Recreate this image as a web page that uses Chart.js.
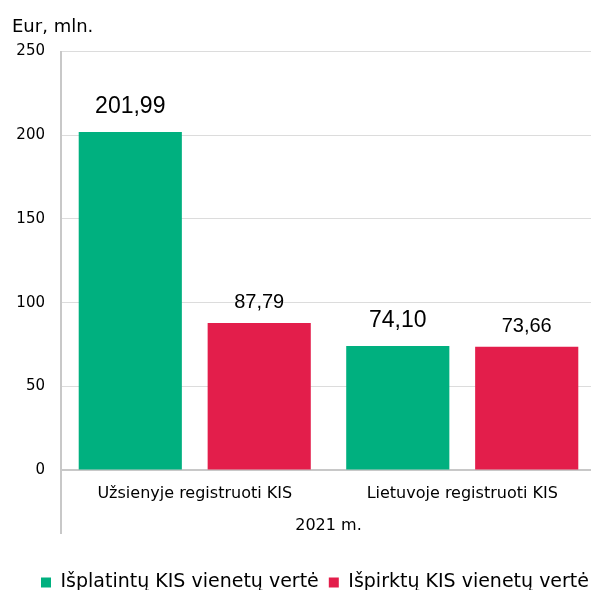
<!DOCTYPE html>
<html lang="lt">
<head>
<meta charset="UTF-8">
<title>KIS vienetų vertė</title>
<script src="https://cdn.jsdelivr.net/npm/chart.js@4"></script>
<style>
  html, body { margin: 0; padding: 0; background: #fff; overflow: hidden; }
</style>
</head>
<body>
<canvas id="kisChart" width="596" height="590"></canvas>
<script>
// chart data
const categories = ['Užsienyje registruoti KIS', 'Lietuvoje registruoti KIS'];
const seriesNames = ['Išplatintų KIS vienetų vertė', 'Išpirktų KIS vienetų vertė'];
const issuedValues = [201.99, 74.10];
const redeemedValues = [87.79, 73.66];
const yTicks = [0, 50, 100, 150, 200, 250];
const unitLabel = 'Eur, mln.';
const periodLabel = '2021 m.';

const axisColor = '#c8c8c8';
const gridColor = '#dcdcdc';
const sansFont = "'DejaVu Sans', Verdana, sans-serif";

// value labels above the bars (comma decimals)
const valueLabels = {
    id: 'valueLabels',
    afterDatasetsDraw(chart) {
        const ctx = chart.ctx;
        ctx.save();
        ctx.textAlign = 'center';
        ctx.textBaseline = 'alphabetic';
        ctx.fillStyle = '#000';
        chart.data.datasets.forEach((ds, i) => {
            const meta = chart.getDatasetMeta(i);
            ctx.font = ds.labelFont;
            meta.data.forEach((bar, j) => {
                const txt = ds.data[j].toFixed(2).replace('.', ',');
                ctx.fillText(txt, bar.x, bar.y - ds.labelGap);
            });
        });
        ctx.restore();
    }
};

// y axis line continues down through the category label area
const axisTail = {
    id: 'axisTail',
    afterDraw(chart) {
        const { ctx, chartArea } = chart;
        ctx.save();
        ctx.strokeStyle = axisColor;
        ctx.lineWidth = 2;
        ctx.beginPath();
        ctx.moveTo(chartArea.left, chartArea.bottom);
        ctx.lineTo(chartArea.left, chartArea.bottom + 64);
        ctx.stroke();
        ctx.restore();
    }
};

// nudge the legend row a little to the right, like the original
const legendShift = {
    id: 'legendShift',
    afterLayout(chart) {
        if (chart.legend) {
            chart.legend.left += 11;
            chart.legend.right += 11;
        }
    }
};

new Chart(document.getElementById('kisChart'), {
    type: 'bar',
    data: {
        labels: categories,
        datasets: [
            {
                label: seriesNames[0],
                data: issuedValues,
                backgroundColor: '#00b07f',
                labelFont: "23px 'Liberation Sans', Arial, sans-serif",
                labelGap: 19
            },
            {
                label: seriesNames[1],
                data: redeemedValues,
                backgroundColor: '#e31e4b',
                labelFont: "20px 'Liberation Sans', Arial, sans-serif",
                labelGap: 15
            }
        ]
    },
    options: {
        responsive: false,
        animation: false,
        categoryPercentage: 0.964,
        barPercentage: 0.8,
        layout: { padding: { left: 12, right: 0, top: 0, bottom: -12 } },
        plugins: {
            title: {
                display: true,
                text: unitLabel,
                align: 'start',
                color: '#000',
                font: { family: sansFont, size: 18, weight: 'normal' },
                padding: { top: 17, bottom: 13 }
            },
            legend: {
                position: 'bottom',
                labels: {
                    color: '#000',
                    boxWidth: 10,
                    boxHeight: 10,
                    padding: 10,
                    font: { family: sansFont, size: 19 }
                }
            },
            tooltip: { enabled: false }
        },
        scales: {
            x: {
                grid: { display: false },
                border: { display: true, color: axisColor, width: 2 },
                ticks: { color: '#000', padding: 6, font: { family: sansFont, size: 16 } },
                title: {
                    display: true,
                    text: periodLabel,
                    color: '#000',
                    font: { family: sansFont, size: 16 },
                    padding: { top: 4, bottom: 28 }
                },
                afterFit: (scale) => { scale.height = 93; }
            },
            y: {
                min: 0,
                max: 250,
                afterBuildTicks: (scale) => { scale.ticks = yTicks.map(v => ({ value: v })); },
                grid: { color: gridColor, lineWidth: 1, drawTicks: false },
                border: { display: true, color: axisColor, width: 2 },
                ticks: { color: '#000', padding: 16, font: { family: sansFont, size: 15 } },
                afterFit: (scale) => { scale.width = 49; }
            }
        }
    },
    plugins: [valueLabels, axisTail, legendShift]
});
</script>
</body>
</html>
